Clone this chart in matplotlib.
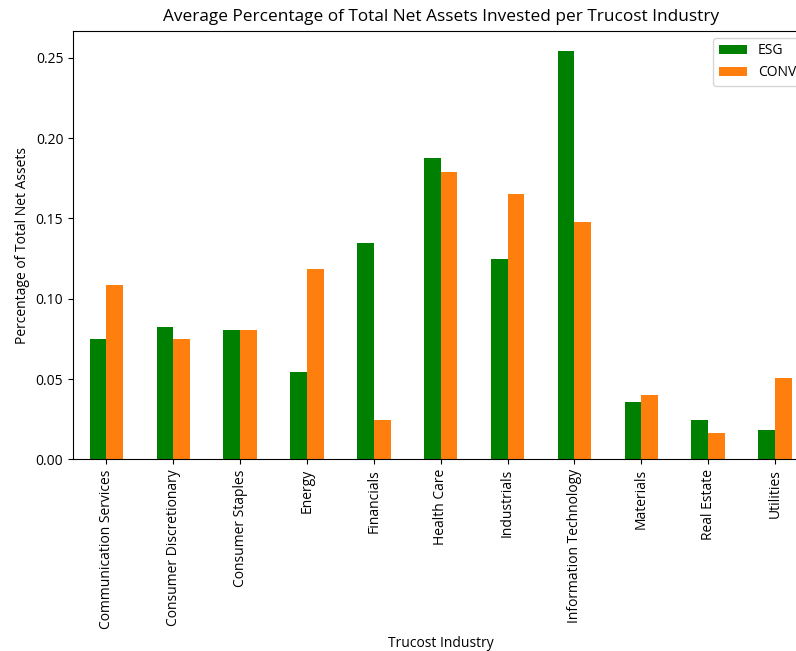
import matplotlib
matplotlib.use("Agg")
import matplotlib.pyplot as plt
import numpy as np

industries = [
    "Communication Services", "Consumer Discretionary", "Consumer Staples",
    "Energy", "Financials", "Health Care", "Industrials",
    "Information Technology", "Materials", "Real Estate", "Utilities",
]
esg = [0.0750, 0.0823, 0.0807, 0.0546, 0.1346, 0.1878, 0.1246,
       0.2540, 0.0360, 0.0243, 0.0183]
conv = [0.1088, 0.0750, 0.0807, 0.1184, 0.0247, 0.1787, 0.1650,
        0.1475, 0.0400, 0.0162, 0.0505]

plt.rcParams["font.family"] = ["Open Sans", "DejaVu Sans"]
plt.rcParams["font.size"] = 10

fig = plt.figure(figsize=(7.96, 6.51), dpi=100)
ax = fig.add_axes([0.0917, 0.2942, 0.924, 0.6582])

x = np.arange(len(industries))
w = 0.25
ax.bar(x - w / 2, esg, width=w, color="green", label="ESG")
ax.bar(x + w / 2, conv, width=w, color="#ff7f0e", label="CONV")

ax.set_xlim(-0.5, len(industries) - 0.5)
ax.set_ylim(0, max(esg + conv) * 1.05)
ax.set_yticks([0.0, 0.05, 0.10, 0.15, 0.20, 0.25])
ax.set_yticklabels(["0.00", "0.05", "0.10", "0.15", "0.20", "0.25"])
ax.set_xticks(x)
ax.set_xticklabels(industries, rotation=90)

ax.set_title("Average Percentage of Total Net Assets Invested per Trucost Industry",
             fontsize=12.4, pad=7.5)
ax.set_xlabel("Trucost Industry", labelpad=5.5)
ax.set_ylabel("Percentage of Total Net Assets")
ax.legend(loc="upper right")

fig.savefig("out.png", dpi=100)
